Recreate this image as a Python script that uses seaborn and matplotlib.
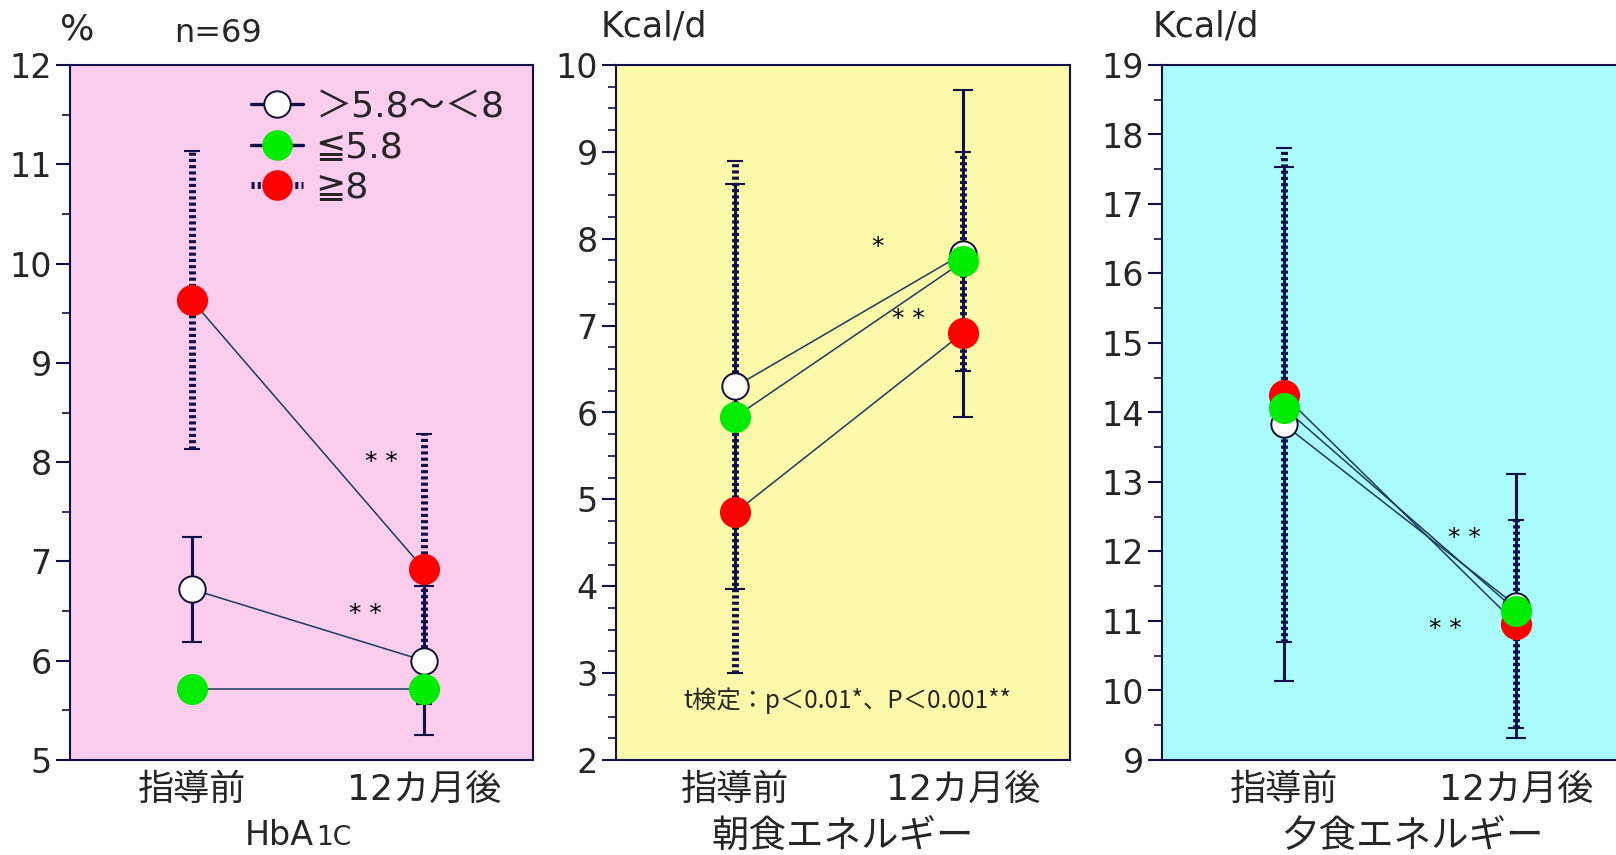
import numpy as np
import pandas as pd
import matplotlib
matplotlib.use("Agg")
import matplotlib.pyplot as plt
import seaborn as sns
from matplotlib.lines import Line2D
from matplotlib.ticker import MultipleLocator

sns.set_style("ticks")
plt.rcParams['font.family'] = ['DejaVu Sans', 'Noto Sans CJK JP']

# ---------------- data ----------------
times = ["指導前", "12カ月後"]
groups = ["＞5.8～＜8", "≦5.8", "≧8"]

# HbA1c (%)
hba1c_mid = [6.72, 6.00]
hba1c_mid_sd = [0.53, 0.75]
hba1c_low = [5.72, 5.72]
hba1c_low_sd = [0.0, 0.0]
hba1c_high = [9.63, 6.92]
hba1c_high_sd = [1.50, 1.36]

# breakfast energy (Kcal/d, x100)
bf_mid = [6.30, 7.83]
bf_mid_sd = [2.33, 1.88]
bf_low = [5.95, 7.74]
bf_low_sd = [2.95, 1.26]
bf_high = [4.85, 6.92]
bf_high_sd = [0.0, 0.0]

# dinner energy (Kcal/d, x100)
dn_mid = [13.83, 11.22]
dn_mid_sd = [3.70, 1.90]
dn_low = [14.07, 11.15]
dn_low_sd = [0.0, 0.0]
dn_high = [14.25, 10.96]
dn_high_sd = [3.55, 1.50]

# ---------------- style ----------------
NAVY = "#10104a"
LINE = "#1c3a5c"
FACE = {"＞5.8～＜8": "white", "≦5.8": "#00ec00", "≧8": "#ff0000"}
EDGE = {"＞5.8～＜8": "#101030", "≦5.8": "#00ec00", "≧8": "#ff0000"}
SIZE = {"＞5.8～＜8": 360, "≦5.8": 440, "≧8": 440}
ZORD = {"＞5.8～＜8": 5, "≦5.8": 7, "≧8": 6}
DASH = (0, (0.45, 0.45))

W, H = 1616, 855
fig = plt.figure(figsize=(W / 100, H / 100), dpi=100)


def make_df(mid, low, high):
    rows = []
    for g, vals in zip(groups, [mid, low, high]):
        for i, v in enumerate(vals):
            rows.append({"group": g, "x": i, "value": v})
    return pd.DataFrame(rows)


def panel(rect, bg, mid, mid_sd, low, low_sd, high, high_sd, ylim, minor):
    ax = fig.add_axes(rect)
    ax.set_facecolor(bg)
    df = make_df(mid, low, high)
    sds = {groups[0]: mid_sd, groups[1]: low_sd, groups[2]: high_sd}
    # error bars
    for g in groups:
        sub = df[df.group == g]
        sd = np.array(sds[g])
        keep = sd > 0
        if not keep.any():
            continue
        xs = sub.x.values[keep]
        ys = sub.value.values[keep]
        if g == groups[0]:
            ax.errorbar(xs, ys, yerr=sd[keep], fmt="none", ecolor=NAVY,
                        elinewidth=2.2, capsize=7, capthick=1.5, zorder=2)
        else:
            eb = ax.errorbar(xs, ys, yerr=sd[keep], fmt="none", ecolor=NAVY,
                             elinewidth=5.0, capsize=5.5, capthick=1.5, zorder=2)
            eb[2][0].set_linestyle(DASH)
    # connecting lines
    sns.lineplot(data=df, x="x", y="value", hue="group", units="group",
                 estimator=None, palette={g: LINE for g in groups},
                 linewidth=1.1, legend=False, ax=ax, zorder=3, sort=False)
    # markers
    for g in groups:
        sub = df[df.group == g]
        sns.scatterplot(data=sub, x="x", y="value", color=FACE[g],
                        edgecolor=EDGE[g], linewidth=1.4, s=SIZE[g],
                        legend=False, ax=ax, zorder=ZORD[g])
    ax.set_xlim(-0.524, 1.468)
    ax.set_ylim(*ylim)
    ax.set_xticks([0, 1], labels=times)
    ax.yaxis.set_major_locator(MultipleLocator(1))
    ax.yaxis.set_minor_locator(MultipleLocator(minor))
    ax.set_xlabel("")
    ax.set_ylabel("")
    for s in ax.spines.values():
        s.set_color(NAVY)
        s.set_linewidth(1.5)
        s.set_visible(True)
    ax.tick_params(axis="y", which="major", direction="out", length=10,
                   width=1.5, color=NAVY, labelsize=24, pad=3, left=True)
    ax.tick_params(axis="y", which="minor", direction="out", length=6,
                   width=1.2, color=NAVY, left=True)
    ax.tick_params(axis="x", length=0, pad=9, bottom=True)
    for lab in ax.get_xticklabels():
        lab.set_fontsize(26)
    return ax


top_px, bot_px = 65, 760
b = (H - bot_px) / H
h = (bot_px - top_px) / H

ax1 = panel([70 / W, b, 463 / W, h], "#facdec", hba1c_mid, hba1c_mid_sd,
            hba1c_low, hba1c_low_sd, hba1c_high, hba1c_high_sd, (5, 12), 0.5)
ax2 = panel([616 / W, b, 454 / W, h], "#fafaaa", bf_mid, bf_mid_sd,
            bf_low, bf_low_sd, bf_high, bf_high_sd, (2, 10), 0.25)
ax3 = panel([1162 / W, b, 463 / W, h], "#aafcfc", dn_mid, dn_mid_sd,
            dn_low, dn_low_sd, dn_high, dn_high_sd, (9, 19), 0.5)

# legend
handles = [
    Line2D([0], [0], color=NAVY, lw=2.4, marker="o", markersize=19,
           markerfacecolor="white", markeredgecolor="#101030", markeredgewidth=1.4),
    Line2D([0], [0], color=NAVY, lw=2.4, marker="o", markersize=21,
           markerfacecolor="#00ec00", markeredgecolor="#00ec00"),
    Line2D([0], [0], color=NAVY, lw=5.0, ls=DASH, marker="o", markersize=21,
           markerfacecolor="#ff0000", markeredgecolor="#ff0000"),
]
ax1.legend(handles, groups, loc="upper left", bbox_to_anchor=(0.39, 0.964),
           frameon=False, fontsize=26, handlelength=1.45, handletextpad=0.35,
           labelspacing=0.17, borderpad=0, borderaxespad=0)

# stars
star_kw = dict(ha="center", va="center", fontsize=18, color="black")
ax1.text(0.814, 8.00, "* *", **star_kw)
ax1.text(0.745, 6.47, "* *", **star_kw)
ax2.text(0.625, 7.90, "*", **star_kw)
ax2.text(0.757, 7.08, "* *", **star_kw)
ax3.text(0.775, 12.20, "* *", **star_kw)
ax3.text(0.697, 10.89, "* *", **star_kw)

ax2.text(0.509, 0.085, "t検定：p＜0.01*、P＜0.001**", transform=ax2.transAxes,
         ha="center", va="center", fontsize=17.5,
         family=["Noto Sans CJK JP", "DejaVu Sans"])

# unit labels
fig.text(77 / W, 1 - 29 / H, "%", ha="center", va="center", fontsize=26)
fig.text(218 / W, 1 - 33 / H, "n=69", ha="center", va="center", fontsize=23)
fig.text(654 / W, 1 - 27 / H, "Kcal/d", ha="center", va="center", fontsize=25)
fig.text(1206 / W, 1 - 27 / H, "Kcal/d", ha="center", va="center", fontsize=25)

# x-axis titles
fig.text(314 / W, 1 - 845 / H, "HbA", ha="right", va="baseline", fontsize=24)
fig.text(316 / W, 1 - 845 / H, "1C", ha="left", va="baseline", fontsize=19)
fig.text(843 / W, 1 - 837 / H, "朝食エネルギー", ha="center", va="center",
         fontsize=27, family=["Noto Sans CJK JP"])
fig.text(1412 / W, 1 - 837 / H, "夕食エネルギー", ha="center", va="center",
         fontsize=27, family=["Noto Sans CJK JP"])

fig.savefig("out.png", dpi=100)
